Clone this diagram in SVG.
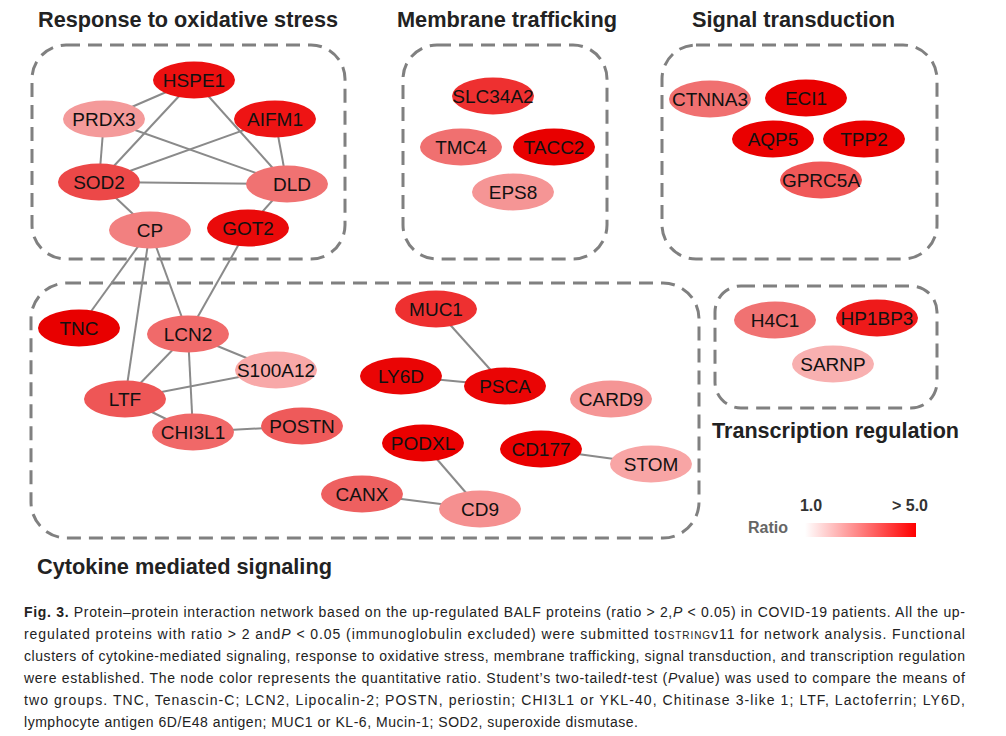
<svg xmlns="http://www.w3.org/2000/svg" width="1006" height="736" viewBox="0 0 1006 736">
<defs>
<linearGradient id="ratio" x1="0" y1="0" x2="1" y2="0">
<stop offset="0" stop-color="#ffffff"/>
<stop offset="1" stop-color="#ff0000"/>
</linearGradient>
<style>
.box{fill:none;stroke:#808080;stroke-width:3;stroke-dasharray:14 8}
.edge{stroke:#8a8a8a;stroke-width:2;fill:none}
.node ellipse{stroke:none}
.lbl{font-family:"Liberation Sans",Arial,sans-serif;font-size:19px;fill:#111;text-anchor:middle}
.title{font-family:"Liberation Sans",Arial,sans-serif;font-size:22px;font-weight:bold;fill:#222}
.cap{font-family:"Liberation Sans",Arial,sans-serif;font-size:14px;fill:#222}
.leg{font-family:"Liberation Sans",Arial,sans-serif;font-size:16px;font-weight:bold}
</style>
</defs>
<rect width="1006" height="736" fill="#ffffff"/>

<g id="clusters">
<rect class="box" x="32" y="45" width="313" height="214" rx="34"/>
<rect class="box" x="403" y="45" width="204" height="214" rx="34"/>
<rect class="box" x="662" y="45" width="275" height="214" rx="34"/>
<rect class="box" x="31" y="283" width="668" height="255" rx="36"/>
<rect class="box" x="715" y="286" width="222" height="122" rx="26"/>
</g>

<g id="titles">
<text class="title" x="38" y="27" textLength="300" lengthAdjust="spacingAndGlyphs">Response to oxidative stress</text>
<text class="title" x="397" y="27" textLength="220" lengthAdjust="spacingAndGlyphs">Membrane trafficking</text>
<text class="title" x="692" y="27" textLength="203" lengthAdjust="spacingAndGlyphs">Signal transduction</text>
<text class="title" x="37" y="574" textLength="295" lengthAdjust="spacingAndGlyphs">Cytokine mediated signaling</text>
<text class="title" x="712" y="438" textLength="247" lengthAdjust="spacingAndGlyphs">Transcription regulation</text>
</g>

<g id="connectors">
<line class="edge" x1="194" y1="80" x2="104" y2="119"/>
<line class="edge" x1="194" y1="80" x2="99" y2="182"/>
<line class="edge" x1="194" y1="80" x2="287" y2="184"/>
<line class="edge" x1="104" y1="119" x2="99" y2="182"/>
<line class="edge" x1="104" y1="119" x2="287" y2="184"/>
<line class="edge" x1="275" y1="119" x2="99" y2="182"/>
<line class="edge" x1="275" y1="119" x2="287" y2="184"/>
<line class="edge" x1="99" y1="182" x2="287" y2="184"/>
<line class="edge" x1="99" y1="182" x2="150" y2="230"/>
<line class="edge" x1="287" y1="184" x2="248" y2="228"/>
<line class="edge" x1="150" y1="230" x2="79" y2="328"/>
<line class="edge" x1="150" y1="230" x2="125" y2="399"/>
<line class="edge" x1="150" y1="230" x2="188" y2="334"/>
<line class="edge" x1="248" y1="228" x2="188" y2="334"/>
<line class="edge" x1="188" y1="334" x2="276" y2="370"/>
<line class="edge" x1="188" y1="334" x2="125" y2="399"/>
<line class="edge" x1="188" y1="334" x2="193" y2="432"/>
<line class="edge" x1="125" y1="399" x2="276" y2="370"/>
<line class="edge" x1="125" y1="399" x2="193" y2="432"/>
<line class="edge" x1="193" y1="432" x2="302" y2="426"/>
<line class="edge" x1="436" y1="309" x2="505" y2="386"/>
<line class="edge" x1="401" y1="376" x2="505" y2="386"/>
<line class="edge" x1="423" y1="443" x2="480" y2="509"/>
<line class="edge" x1="362" y1="494" x2="480" y2="509"/>
<line class="edge" x1="541" y1="449" x2="651" y2="464"/>
</g>

<g id="n-HSPE1" class="node"><ellipse cx="194" cy="80" rx="41" ry="18.5" fill="#ec1010"/><text class="lbl" x="194" y="87">HSPE1</text></g>
<g id="n-PRDX3" class="node"><ellipse cx="104" cy="119" rx="41" ry="18.5" fill="#f49a9a"/><text class="lbl" x="104" y="126">PRDX3</text></g>
<g id="n-AIFM1" class="node"><ellipse cx="275" cy="119" rx="41" ry="18.5" fill="#ee1414"/><text class="lbl" x="275" y="126">AIFM1</text></g>
<g id="n-SOD2" class="node"><ellipse cx="99" cy="182" rx="41" ry="18.5" fill="#ec4848"/><text class="lbl" x="99" y="189">SOD2</text></g>
<g id="n-DLD" class="node"><ellipse cx="287" cy="184" rx="41" ry="18.5" fill="#f07272"/><text class="lbl" x="292" y="191">DLD</text></g>
<g id="n-CP" class="node"><ellipse cx="150" cy="230" rx="41" ry="18.5" fill="#f28080"/><text class="lbl" x="150" y="237">CP</text></g>
<g id="n-GOT2" class="node"><ellipse cx="248" cy="228" rx="41" ry="18.5" fill="#ea0a0a"/><text class="lbl" x="248" y="235">GOT2</text></g>

<g id="n-SLC34A2" class="node"><ellipse cx="493" cy="96" rx="41" ry="18.5" fill="#ee3030"/><text class="lbl" x="493" y="103">SLC34A2</text></g>
<g id="n-TMC4" class="node"><ellipse cx="461" cy="147" rx="41" ry="18.5" fill="#f07070"/><text class="lbl" x="461" y="154">TMC4</text></g>
<g id="n-TACC2" class="node"><ellipse cx="554" cy="147" rx="41" ry="18.5" fill="#e80000"/><text class="lbl" x="554" y="154">TACC2</text></g>
<g id="n-EPS8" class="node"><ellipse cx="513" cy="192" rx="41" ry="18.5" fill="#f59595"/><text class="lbl" x="513" y="199">EPS8</text></g>

<g id="n-CTNNA3" class="node"><ellipse cx="710" cy="99" rx="41" ry="18.5" fill="#f07070"/><text class="lbl" x="710" y="106">CTNNA3</text></g>
<g id="n-ECI1" class="node"><ellipse cx="806" cy="98" rx="41" ry="18.5" fill="#ea0000"/><text class="lbl" x="806" y="105">ECI1</text></g>
<g id="n-AQP5" class="node"><ellipse cx="773" cy="139" rx="41" ry="18.5" fill="#ea0000"/><text class="lbl" x="773" y="146">AQP5</text></g>
<g id="n-TPP2" class="node"><ellipse cx="864" cy="139" rx="41" ry="18.5" fill="#ea0000"/><text class="lbl" x="864" y="146">TPP2</text></g>
<g id="n-GPRC5A" class="node"><ellipse cx="821" cy="180" rx="41" ry="18.5" fill="#f05858"/><text class="lbl" x="821" y="187">GPRC5A</text></g>

<g id="n-TNC" class="node"><ellipse cx="79" cy="328" rx="41" ry="18.5" fill="#e80000"/><text class="lbl" x="79" y="335">TNC</text></g>
<g id="n-LCN2" class="node"><ellipse cx="188" cy="334" rx="41" ry="18.5" fill="#f06a6a"/><text class="lbl" x="188" y="341">LCN2</text></g>
<g id="n-S100A12" class="node"><ellipse cx="276" cy="370" rx="41" ry="18.5" fill="#f8a8a8"/><text class="lbl" x="276" y="377">S100A12</text></g>
<g id="n-LTF" class="node"><ellipse cx="125" cy="399" rx="41" ry="18.5" fill="#ee5656"/><text class="lbl" x="125" y="406">LTF</text></g>
<g id="n-CHI3L1" class="node"><ellipse cx="193" cy="432" rx="41" ry="18.5" fill="#f06868"/><text class="lbl" x="193" y="439">CHI3L1</text></g>
<g id="n-POSTN" class="node"><ellipse cx="302" cy="426" rx="41" ry="18.5" fill="#ee5a5a"/><text class="lbl" x="302" y="433">POSTN</text></g>
<g id="n-MUC1" class="node"><ellipse cx="436" cy="309" rx="41" ry="18.5" fill="#ee3030"/><text class="lbl" x="436" y="316">MUC1</text></g>
<g id="n-LY6D" class="node"><ellipse cx="401" cy="376" rx="41" ry="18.5" fill="#ea0505"/><text class="lbl" x="401" y="383">LY6D</text></g>
<g id="n-PSCA" class="node"><ellipse cx="505" cy="386" rx="41" ry="18.5" fill="#ea0505"/><text class="lbl" x="505" y="393">PSCA</text></g>
<g id="n-CARD9" class="node"><ellipse cx="611" cy="399" rx="41" ry="18.5" fill="#f59595"/><text class="lbl" x="611" y="406">CARD9</text></g>
<g id="n-PODXL" class="node"><ellipse cx="423" cy="443" rx="41" ry="18.5" fill="#ea0000"/><text class="lbl" x="423" y="450">PODXL</text></g>
<g id="n-CD177" class="node"><ellipse cx="541" cy="449" rx="41" ry="18.5" fill="#ea0000"/><text class="lbl" x="541" y="456">CD177</text></g>
<g id="n-STOM" class="node"><ellipse cx="651" cy="464" rx="41" ry="18.5" fill="#f8a5a5"/><text class="lbl" x="651" y="471">STOM</text></g>
<g id="n-CANX" class="node"><ellipse cx="362" cy="494" rx="41" ry="18.5" fill="#ee6060"/><text class="lbl" x="362" y="501">CANX</text></g>
<g id="n-CD9" class="node"><ellipse cx="480" cy="509" rx="41" ry="18.5" fill="#f59090"/><text class="lbl" x="480" y="516">CD9</text></g>

<g id="n-H4C1" class="node"><ellipse cx="775" cy="320" rx="41" ry="18.5" fill="#f07272"/><text class="lbl" x="775" y="327">H4C1</text></g>
<g id="n-HP1BP3" class="node"><ellipse cx="877" cy="318" rx="41" ry="18.5" fill="#ee1a1a"/><text class="lbl" x="877" y="325">HP1BP3</text></g>
<g id="n-SARNP" class="node"><ellipse cx="833" cy="364" rx="41" ry="18.5" fill="#f8b0b0"/><text class="lbl" x="833" y="371">SARNP</text></g>

<g id="legend">
<text class="leg" x="811" y="511" fill="#333" text-anchor="middle">1.0</text>
<text class="leg" x="928" y="511" fill="#333" text-anchor="end">&gt; 5.0</text>
<text class="leg" x="768" y="533" fill="#666" text-anchor="middle">Ratio</text>
<rect x="805" y="523" width="111" height="14" fill="url(#ratio)"/>
</g>

<g id="caption" class="cap">
<text x="24" y="617" textLength="941" lengthAdjust="spacing"><tspan font-weight="bold">Fig. 3.</tspan> Protein–protein interaction network based on the up-regulated BALF proteins (ratio &gt; 2,<tspan font-style="italic">P</tspan> &lt; 0.05) in COVID-19 patients. All the up-</text>
<text x="24" y="639" textLength="941" lengthAdjust="spacing">regulated proteins with ratio &gt; 2 and<tspan font-style="italic">P</tspan> &lt; 0.05 (immunoglobulin excluded) were submitted to<tspan font-size="10px">STRING</tspan>v11 for network analysis. Functional</text>
<text x="24" y="661" textLength="941" lengthAdjust="spacing">clusters of cytokine-mediated signaling, response to oxidative stress, membrane trafficking, signal transduction, and transcription regulation</text>
<text x="24" y="683" textLength="941" lengthAdjust="spacing">were established. The node color represents the quantitative ratio. Student’s two-tailed<tspan font-style="italic">t</tspan>-test (<tspan font-style="italic">P</tspan>value) was used to compare the means of</text>
<text x="24" y="705" textLength="941" lengthAdjust="spacing">two groups. TNC, Tenascin-C; LCN2, Lipocalin-2; POSTN, periostin; CHI3L1 or YKL-40, Chitinase 3-like 1; LTF, Lactoferrin; LY6D,</text>
<text x="24" y="727" textLength="614" lengthAdjust="spacing">lymphocyte antigen 6D/E48 antigen; MUC1 or KL-6, Mucin-1; SOD2, superoxide dismutase.</text>
</g>
</svg>
